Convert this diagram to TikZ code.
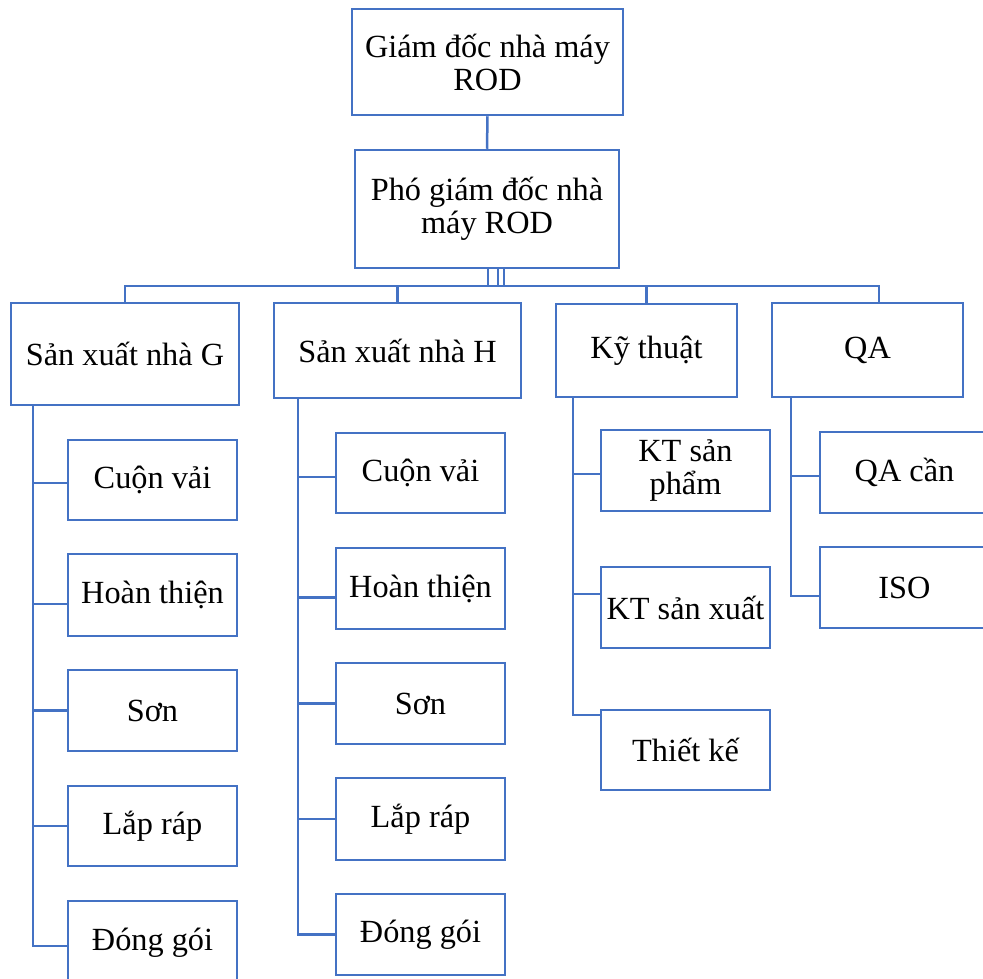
\documentclass[tikz,border=0pt]{standalone}
\usepackage{fontspec}
\setmainfont{Liberation Serif}
\definecolor{orgblue}{RGB}{68,114,196}
\tikzset{
  unitbox/.style={draw=orgblue, line width=2.5pt, fill=white, align=center,
    inner sep=0pt, font=\fontsize{32.3}{33}\selectfont, text=black},
  link/.style={draw=orgblue, line width=2.5pt}
}
\begin{document}
\begin{tikzpicture}[x=1pt,y=-1pt]
\useasboundingbox (0,0) rectangle (983,978);
\clip (0,0) rectangle (983,978);

% management
\node[unitbox, minimum width=271pt, minimum height=106pt] (gd) at (487.5,62) {Giám đốc nhà máy\\ROD};
\node[unitbox, minimum width=264pt, minimum height=118pt] (vp) at (487,209) {Phó giám đốc nhà\\máy ROD};

% departments
\node[unitbox, minimum width=228pt, minimum height=102pt] (g)  at (125,354)   {Sản xuất nhà G};
\node[unitbox, minimum width=247pt, minimum height=95pt]  (h)  at (397.5,350.5) {Sản xuất nhà H};
\node[unitbox, minimum width=181pt, minimum height=93pt]  (k)  at (646.5,350.5) {Kỹ thuật};
\node[unitbox, minimum width=191pt, minimum height=94pt]  (qa) at (867.5,350)   {QA};

% sections of Sản xuất nhà G
\tikzset{gsec/.style={unitbox, minimum width=169pt}}
\node[gsec, minimum height=80pt] (g1) at (152.5,480)   {Cuộn vải};
\node[gsec, minimum height=82pt] (g2) at (152.5,595)   {Hoàn thiện};
\node[gsec, minimum height=81pt] (g3) at (152.5,710.5) {Sơn};
\node[gsec, minimum height=80pt] (g4) at (152.5,826)   {Lắp ráp};
\node[gsec, minimum height=84pt] (g5) at (152.5,943)   {Đóng gói};

% sections of Sản xuất nhà H
\node[gsec, minimum height=80pt] (h1) at (420.5,473)   {Cuộn vải};
\node[gsec, minimum height=81pt] (h2) at (420.5,588.5) {Hoàn thiện};
\node[gsec, minimum height=81pt] (h3) at (420.5,703.5) {Sơn};
\node[gsec, minimum height=82pt] (h4) at (420.5,819)   {Lắp ráp};
\node[gsec, minimum height=81pt] (h5) at (420.5,934.5) {Đóng gói};

% sections of Kỹ thuật
\node[gsec, minimum height=81pt] (k1) at (685.5,470.5) {KT sản\\phẩm};
\node[gsec, minimum height=81pt] (k2) at (685.5,607.5) {KT sản xuất};
\node[gsec, minimum height=80pt] (k3) at (685.5,750)   {Thiết kế};

% sections of QA
\node[gsec, minimum height=81pt] (q1) at (904.5,472.5) {QA cần};
\node[gsec, minimum height=81pt] (q2) at (904.5,587.5) {ISO};

% top connectors
\draw[link] (gd.south) -- (vp.north);
\coordinate (busR) at ([xshift=11.5pt,yshift=16pt]qa.north);
\draw[link] ([xshift=11.5pt]qa.north) -- (busR) -| (g.north);
\draw[link] (h.north) -- (h.north |- busR);
\draw[link] (k.north) -- (k.north |- busR);
\foreach \dx in {1,11,17}
  \draw[link] ([xshift=\dx pt]vp.south) -- ([xshift=\dx pt]vp.south |- busR);

% section trunks
\coordinate (gt) at ([xshift=23pt]g.south west);
\coordinate (ht) at ([xshift=25pt]h.south west);
\coordinate (kt) at ([xshift=18pt]k.south west);
\coordinate (qt) at ([xshift=20pt]qa.south west);

\draw[link] (gt) |- ([yshift=-3pt]g5.west);
\draw[link] ([yshift=-3pt]g1.west) -- ([yshift=-3pt]g1.west -| gt);
\draw[link] ([yshift=-9pt]g2.west) -- ([yshift=-9pt]g2.west -| gt);
\draw[link] (g3.west) -- (g3.west -| gt);
\draw[link] (g4.west) -- (g4.west -| gt);

\draw[link] (ht) |- (h5.west);
\draw[link] ([yshift=-4pt]h1.west) -- ([yshift=-4pt]h1.west -| ht);
\draw[link] ([yshift=-9pt]h2.west) -- ([yshift=-9pt]h2.west -| ht);
\draw[link] (h3.west) -- (h3.west -| ht);
\draw[link] (h4.west) -- (h4.west -| ht);

\draw[link] (kt) |- ([yshift=35pt]k3.west);
\draw[link] ([yshift=-3.5pt]k1.west) -- ([yshift=-3.5pt]k1.west -| kt);
\draw[link] ([yshift=13.5pt]k2.west) -- ([yshift=13.5pt]k2.west -| kt);

\draw[link] (qt) |- ([yshift=-8.5pt]q2.west);
\draw[link] ([yshift=-3.5pt]q1.west) -- ([yshift=-3.5pt]q1.west -| qt);
\end{tikzpicture}
\end{document}
